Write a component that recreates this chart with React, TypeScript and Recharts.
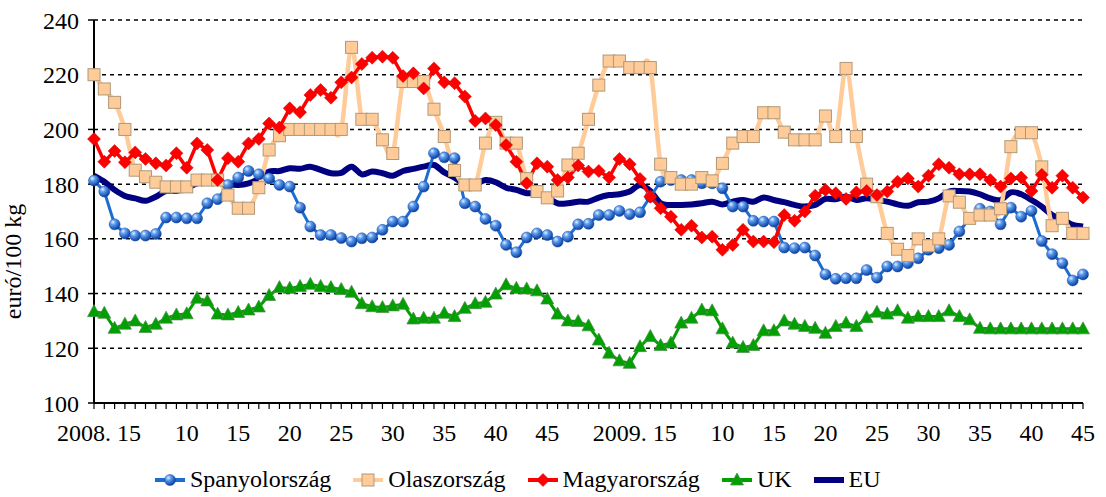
import { LineChart, Line, XAxis, YAxis, CartesianGrid, Legend } from 'recharts';

// weekly prices, euró / 100 kg — 2008 wk1 .. 2009 wk45
const weeks = [
  ...Array.from({ length: 52 }, (_, i) => `2008/${i + 1}`),
  ...Array.from({ length: 45 }, (_, i) => `2009/${i + 1}`),
];

const tickLabels: Record<string, string> = {
  '2008/1': '2008. 15', '2008/10': '10', '2008/15': '15', '2008/20': '20', '2008/25': '25',
  '2008/30': '30', '2008/35': '35', '2008/40': '40', '2008/45': '45',
  '2009/1': '2009. 15', '2009/10': '10', '2009/15': '15', '2009/20': '20', '2009/25': '25',
  '2009/30': '30', '2009/35': '35', '2009/40': '40', '2009/45': '45',
};

const yTicks = [100, 120, 140, 160, 180, 200, 220, 240];

const spain = [
  181.3, 177.3, 165.3, 162, 161.2, 161.2, 161.8, 167.8, 167.8, 167.5,
  167.5, 173, 174.5, 179.7, 182.4, 184.8, 183.6, 182.1, 179.7, 179.1,
  171.4, 164.5, 161.4, 161.4, 160.3, 159, 160.2, 160.5, 163.3, 166.3,
  166.3, 171.8, 179.1, 191.3, 189.8, 189.5, 173, 171.8, 167.3, 164.8,
  157.8, 155.1, 160.5, 162, 161.4, 159, 160.8, 165.3, 165.5, 168.7,
  168.7, 170.2, 169, 169.7, 175.4, 180.9, 181.5, 181.5, 181.5, 180.3,
  180.3, 178.5, 171.8, 171.8, 166.6, 166.3, 166.3, 156.8, 156.6, 156.8,
  153.9, 147, 145.4, 145.6, 145.6, 148.6, 145.8, 149.9, 149.9, 151.1,
  152.9, 156, 156.6, 157.8, 162.7, 167.5, 171, 170, 165.3, 171.4,
  168.1, 170.2, 159.2, 154.4, 151.1, 144.8, 147,
];

const italy = [
  220, 214.8, 209.9, 200, 185.1, 182.7, 180.7, 179, 179, 179,
  181.5, 181.5, 181.5, 176, 171.2, 171.2, 178.7, 192.5, 197.7, 200,
  200, 200, 200, 200, 200, 230, 203.7, 203.7, 196.2, 191.2,
  217.5, 217.5, 217.5, 207.4, 197.4, 185, 179.7, 179.7, 195, 202.6,
  195, 195, 182, 177.3, 175, 177.5, 187, 191.3, 203.7, 216.2,
  225, 225, 222.6, 222.6, 222.6, 187.3, 182.4, 180, 180, 182.4,
  181.2, 187.6, 195, 197.4, 197.4, 206.1, 206.1, 199, 196.2, 196.2,
  196.2, 204.9, 197.4, 222.3, 197.4, 180, 175.4, 162, 156.2, 153.9,
  160, 157.5, 160, 175.7, 173.4, 167.5, 168.7, 168.7, 171, 193.7,
  198.8, 198.8, 186.3, 164.8, 167.5, 162, 162,
];

const hungary = [
  196.5, 188.2, 192.1, 188, 191.6, 189.2, 187.6, 186.8, 191.3, 186,
  194.9, 192.5, 181.5, 189.5, 188.2, 194.9, 196.5, 202.2, 200.7, 207.7,
  206.3, 212.6, 214.4, 211.6, 217.2, 219, 223.9, 226.2, 226.6, 226.2,
  219.5, 220.5, 215, 222.3, 217.2, 216.9, 212, 203.1, 204, 201.6,
  194.3, 188.2, 180.3, 187.6, 186.4, 181.5, 182.4, 186.8, 184.6, 184.8,
  182.4, 189.2, 187.3, 181.9, 175.4, 171.2, 168.1, 163.3, 164.8, 160.5,
  160.8, 156, 157.8, 163.3, 159, 159, 158.8, 168.7, 166.6, 170,
  175.8, 177.9, 176.7, 174.6, 177, 177.5, 176, 177.3, 180.9, 182.1,
  179.1, 183.1, 187.3, 186, 183.6, 183.6, 183.6, 181.5, 179.1, 182.1,
  182.4, 177.5, 183.4, 178.7, 183.1, 178.7, 175.1,
];

const uk = [
  133.4, 132.8, 127.3, 128.8, 130, 127.6, 128.8, 131, 132.2, 132.6,
  138.3, 137.3, 132.5, 132.2, 133.1, 134, 135.1, 139.3, 142.2, 141.9,
  142.6, 143.4, 142.6, 142.2, 141.5, 140.5, 136.3, 135.2, 134.9, 135.5,
  136.1, 130.7, 131, 131, 132.8, 131.6, 134.6, 136.3, 136.8, 139.8,
  143.2, 141.9, 141.7, 141, 138, 132.5, 130, 129.8, 128.2, 123,
  118.2, 115.4, 114.5, 120.6, 124.3, 121, 121.9, 129.2, 131, 134,
  133.7, 127.1, 121.9, 120.3, 121, 126.4, 126.4, 130, 128.8, 128,
  127.3, 125.5, 128, 129.2, 128, 131.2, 133.2, 132.5, 133.7, 131,
  131.6, 131.6, 131.6, 133.7, 131.6, 130.4, 127.3, 127.1, 127.1, 127.1,
  127.1, 127.1, 127.1, 127.1, 127.1, 127.1, 127.1,
];

const eu = [
  183.1, 180.9, 177.9, 175.7, 174.8, 173.9, 175.4, 177.5, 177.5, 178.5,
  180.3, 180.9, 180.7, 180, 179.7, 180.3, 181.9, 184.6, 184.8, 185.8,
  185.6, 186.4, 185.2, 184, 184.1, 186.4, 183.6, 184.6, 184, 183.1,
  184.8, 185.6, 186.4, 187, 184.3, 182.4, 180, 180, 181.5, 180.7,
  178.7, 177.9, 176.7, 176.7, 175.1, 173, 173, 173.6, 173.6, 175.1,
  176, 176.3, 177.3, 179.7, 177.5, 173, 172.4, 172.4, 172.6, 173,
  173.6, 172.6, 173.6, 174.2, 173.6, 175.1, 174.2, 173.4, 172.4, 171.8,
  172.4, 174.6, 174.5, 175.4, 174.2, 174.8, 174.2, 173.6, 172.6, 172.1,
  173.4, 173.6, 174.8, 177.3, 177.5, 177.3, 176.3, 174.8, 174.2, 177,
  176.3, 174.2, 171.8, 168.7, 167.3, 165.1, 164.5,
];

const data = weeks.map((week, i) => ({
  week,
  spain: spain[i],
  italy: italy[i],
  hungary: hungary[i],
  uk: uk[i],
  eu: eu[i],
}));

const FONT = "'Liberation Serif', 'DejaVu Serif', serif";

// Excel-like smoothed line (bezier through the points)
function excelSmooth(context: any) {
  let pts: number[][] = [];
  return {
    areaStart() {},
    areaEnd() {},
    lineStart() { pts = []; },
    point(x: number, y: number) { pts.push([+x, +y]); },
    lineEnd() {
      const n = pts.length;
      if (!n) return;
      context.moveTo(pts[0][0], pts[0][1]);
      for (let i = 0; i < n - 1; i++) {
        const p0 = pts[i - 1] || pts[i];
        const p1 = pts[i];
        const p2 = pts[i + 1];
        const p3 = pts[i + 2] || p2;
        context.bezierCurveTo(
          p1[0] + (p2[0] - p0[0]) / 6, p1[1] + (p2[1] - p0[1]) / 6,
          p2[0] - (p3[0] - p1[0]) / 6, p2[1] - (p3[1] - p1[1]) / 6,
          p2[0], p2[1]
        );
      }
    },
  };
}

const Ball = ({ cx, cy }: any) => (
  <circle cx={cx} cy={cy} r={5.5} fill="url(#ballGrad)" stroke="#1448a8" strokeWidth={0.5} />
);
const Square = ({ cx, cy }: any) => (
  <rect x={cx - 6} y={cy - 6} width={12} height={12} fill="#FFCC99" stroke="#B09878" strokeWidth={1} />
);
const Diamond = ({ cx, cy }: any) => (
  <polygon points={`${cx},${cy - 6.5} ${cx + 6.5},${cy} ${cx},${cy + 6.5} ${cx - 6.5},${cy}`} fill="#FF0000" stroke="#D00000" strokeWidth={0.5} />
);
const Triangle = ({ cx, cy }: any) => (
  <polygon points={`${cx},${cy - 7} ${cx + 6.5},${cy + 5} ${cx - 6.5},${cy + 5}`} fill="#00A000" stroke="#4E8A4E" strokeWidth={0.7} />
);

const series = [
  { key: 'spain', name: 'Spanyolország', color: '#1C6DD0', width: 3, Marker: Ball },
  { key: 'italy', name: 'Olaszország', color: '#FFCC99', width: 4.5, Marker: Square },
  { key: 'hungary', name: 'Magyarország', color: '#FF0000', width: 3.5, Marker: Diamond },
  { key: 'uk', name: 'UK', color: '#00A000', width: 3, Marker: Triangle },
  { key: 'eu', name: 'EU', color: '#000080', width: 6, Marker: null as any },
];

const XTick = ({ x, y, payload }: any) => {
  const label = tickLabels[payload.value];
  if (!label) return null;
  // year labels sit a little right of their tick in the original
  const shift = label.length > 2 ? 5 : 0;
  return (
    <text x={x + shift} y={y} dy={30} textAnchor="middle" fontSize={24} style={{ fontFamily: FONT }} fill="#000">
      {label}
    </text>
  );
};

const renderLegend = () => (
  <div style={{ display: 'flex', alignItems: 'center', height: 35, paddingLeft: 155, fontFamily: FONT, fontSize: 24 }}>
    {series.map((s) => (
      <div key={s.key} style={{ display: 'flex', alignItems: 'center', marginRight: 22 }}>
        <svg width={30} height={20}>
          <line x1={0} y1={10} x2={30} y2={10} stroke={s.color} strokeWidth={s.key === 'eu' ? 6 : 4} />
          {s.Marker ? <s.Marker cx={15} cy={10} /> : null}
        </svg>
        <span style={{ marginLeft: 5, color: '#000' }}>{s.name}</span>
      </div>
    ))}
  </div>
);

export default function App() {
  const drawOrder = ['eu', 'spain', 'italy', 'hungary', 'uk'];
  return (
    <div style={{ position: 'absolute', left: 0, top: 0, width: 1106, height: 497, background: '#fff', fontFamily: FONT }}>
      <svg width={0} height={0} style={{ position: 'absolute' }}>
        <defs>
          <radialGradient id="ballGrad" cx="35%" cy="30%" r="70%">
            <stop offset="0%" stopColor="#E4F0FF" />
            <stop offset="35%" stopColor="#5A9BEF" />
            <stop offset="100%" stopColor="#0B3F9E" />
          </radialGradient>
        </defs>
      </svg>
      <LineChart width={1106} height={497} data={data} margin={{ top: 20, right: 23, bottom: 0, left: 34 }} style={{ fontFamily: FONT }}>
        <CartesianGrid vertical={false} stroke="#000" strokeDasharray="4 4" strokeWidth={1.5} />
        <XAxis
          dataKey="week"
          interval={0}
          height={59}
          tickSize={6}
          tickLine={{ stroke: '#000', strokeWidth: 1.2 }}
          axisLine={{ stroke: '#000', strokeWidth: 2 }}
          tick={<XTick />}
        />
        <YAxis
          domain={[100, 240]}
          ticks={yTicks}
          interval={0}
          width={60}
          tickSize={6}
          tickMargin={9}
          tickLine={{ stroke: '#000', strokeWidth: 1.5 }}
          axisLine={{ stroke: '#000', strokeWidth: 2 }}
          tick={{ fill: '#000', fontSize: 24, style: { fontFamily: FONT } }}
          label={{ value: 'euró/100 kg', angle: -90, position: 'insideLeft', offset: -22, dy: 50, style: { textAnchor: 'middle', fill: '#000', fontSize: 24, fontFamily: FONT } }}
        />
        <Legend verticalAlign="bottom" height={35} content={renderLegend} wrapperStyle={{ left: 0, width: 1106, bottom: 0 }} />
        {drawOrder.map((k) => {
          const s = series.find((v) => v.key === k)!;
          const smooth = k === 'eu' || k === 'italy';
          return (
            <Line
              key={k}
              dataKey={k}
              name={s.name}
              type={smooth ? (excelSmooth as any) : 'linear'}
              stroke={s.color}
              strokeWidth={s.width}
              dot={s.Marker ? (p: any) => <s.Marker key={p.index} cx={p.cx} cy={p.cy} /> : false}
              activeDot={false}
              isAnimationActive={false}
            />
          );
        })}
      </LineChart>
    </div>
  );
}
